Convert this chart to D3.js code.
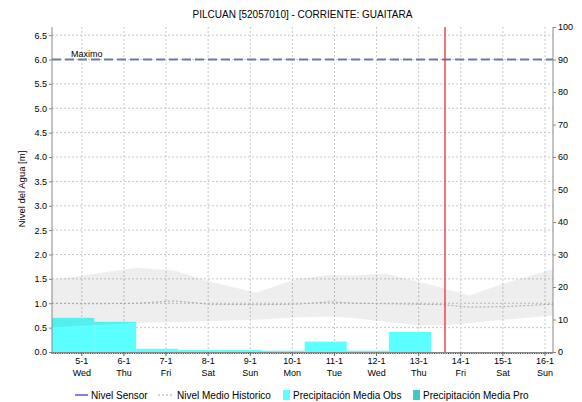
<!DOCTYPE html>
<html><head><meta charset="utf-8">
<script src="https://cdn.jsdelivr.net/npm/d3@7"></script>
<style>body{margin:0;background:#fff}svg{display:block}text{font-family:"Liberation Sans",Arial,sans-serif;fill:#000}</style>
</head><body>
<svg id="c" width="582" height="402"></svg>
<script>
// ---- data ----
const title = "PILCUAN [52057010] - CORRIENTE: GUAITARA";
const dayTicks = [5,6,7,8,9,10,11,12,13,14,15,16];
const dayLabels = ["5-1","6-1","7-1","8-1","9-1","10-1","11-1","12-1","13-1","14-1","15-1","16-1"];
const weekdays = ["Wed","Thu","Fri","Sat","Sun","Mon","Tue","Wed","Thu","Fri","Sat","Sun"];
const precipDays = [4,5,6,7,8,9,10,11,12];
const precipObs = [10.5,9.3,1.0,0.6,0.6,0.4,3.2,0.4,6.2];
const histT = [4.29,5.0,5.5,6.3,7.2,8.0,9.15,10.1,10.9,11.5,12.2,13.0,13.6,14.2,15.0,16.19];
const histUpper = [1.49,1.56,1.63,1.73,1.67,1.45,1.22,1.50,1.58,1.57,1.61,1.44,1.31,1.16,1.40,1.70];
const histLower = [0.51,0.54,0.56,0.60,0.61,0.63,0.66,0.71,0.73,0.69,0.62,0.55,0.55,0.59,0.66,0.75];
const histMean  = [1.00,0.99,0.99,1.00,1.05,0.98,0.97,0.98,1.03,1.00,0.99,0.98,0.97,0.92,0.93,0.98];
const maxLevel = 6.0;
const nowT = 13.625;
const leftTicks = [0,0.5,1,1.5,2,2.5,3,3.5,4,4.5,5,5.5,6,6.5];
const rightTicks = [0,10,20,30,40,50,60,70,80,90,100];

// ---- layout ----
const svg = d3.select("#c");
const L=52, R=553, T=27, B=352;
const x = d3.scaleLinear().domain([4+7/24, 16.19]).range([L,R]);
const yL = d3.scaleLinear().domain([0,20/3]).range([B,T]);
const yR = d3.scaleLinear().domain([0,100]).range([B,T]);

svg.append("text").attr("x",(L+R)/2).attr("y",18).attr("text-anchor","middle")
  .style("font-size","10px").text(title);

// grid
const g = svg.append("g");
g.selectAll(".vg").data(dayTicks).join("line")
  .attr("x1",d=>x(d)).attr("x2",d=>x(d)).attr("y1",T).attr("y2",B)
  .attr("stroke","#c8c8c8").attr("stroke-dasharray","2,2");
g.selectAll(".hg").data(leftTicks.filter(d=>d>0)).join("line")
  .attr("x1",L).attr("x2",R).attr("y1",d=>yL(d)).attr("y2",d=>yL(d))
  .attr("stroke","#c8c8c8").attr("stroke-dasharray","2,2");

// bars
const clip = svg.append("clipPath").attr("id","pc").append("rect")
  .attr("x",L).attr("y",T).attr("width",R-L).attr("height",B-T);
const plot = svg.append("g").attr("clip-path","url(#pc)");
plot.selectAll(".bar").data(precipDays.map((d,i)=>({d,v:precipObs[i]}))).join("rect")
  .attr("x",p=>x(p.d+7/24)).attr("width",p=>x(p.d+1+7/24)-x(p.d+7/24))
  .attr("y",p=>yR(p.v)).attr("height",p=>B-yR(p.v)).attr("fill","#5cffff");

// historical band
const band = histT.map((t,i)=>({t,u:histUpper[i],l:histLower[i],m:histMean[i]}));
plot.append("path").datum(band)
  .attr("d",d3.area().x(p=>x(p.t)).y0(p=>yL(p.l)).y1(p=>yL(p.u)))
  .attr("fill","rgba(0,0,0,0.065)");
plot.append("path").datum(band)
  .attr("d",d3.line().x(p=>x(p.t)).y(p=>yL(p.m)))
  .attr("fill","none").attr("stroke","#a8a8a8").attr("stroke-dasharray","2,2");

// max line
svg.append("line").attr("x1",L).attr("x2",R).attr("y1",yL(maxLevel)).attr("y2",yL(maxLevel))
  .attr("stroke","#6a7aa8").attr("stroke-width",2).attr("stroke-dasharray","9,4");
svg.append("text").attr("x",71).attr("y",yL(maxLevel)-3).style("font-size","9px").text("Maximo");

// now line
svg.append("line").attr("x1",x(nowT)).attr("x2",x(nowT)).attr("y1",T).attr("y2",B)
  .attr("stroke","#e83030").attr("stroke-width",1.3);

// left axis
const la = svg.append("g").attr("transform",`translate(${L},0)`)
  .call(d3.axisLeft(yL).tickValues(leftTicks).tickFormat(d3.format(".1f")).tickSize(3).tickPadding(2));
la.select(".domain").attr("stroke","#888").attr("d",`M0,${T}V${B}`);
la.selectAll(".tick line").attr("stroke","#888");
la.selectAll("text").style("font-size","9px").style("font-family","Liberation Sans, Arial");
// right axis
const ra = svg.append("g").attr("transform",`translate(${R},0)`)
  .call(d3.axisRight(yR).tickValues(rightTicks).tickSize(3).tickPadding(2));
ra.select(".domain").attr("stroke","#888").attr("d",`M0,${T}V${B}`);
ra.selectAll(".tick line").attr("stroke","#888");
ra.selectAll("text").style("font-size","9px").style("font-family","Liberation Sans, Arial");

// bottom axis: dense hourly ticks
const hours = d3.range(Math.ceil(x.domain()[0]*24), Math.floor(x.domain()[1]*24)+1).map(h=>h/24);
svg.append("g").selectAll("line").data(hours).join("line")
  .attr("x1",d=>x(d)).attr("x2",d=>x(d)).attr("y1",B).attr("y2",B+2)
  .attr("stroke","#444");
svg.append("line").attr("x1",L).attr("x2",R).attr("y1",B+0.5).attr("y2",B+0.5).attr("stroke","#888");
svg.append("g").selectAll("line").data(dayTicks).join("line")
  .attr("x1",d=>x(d)).attr("x2",d=>x(d)).attr("y1",B).attr("y2",B+4).attr("stroke","#666");
const xl = svg.append("g");
xl.selectAll(".d").data(dayTicks).join("text").attr("x",d=>x(d)).attr("y",364)
  .attr("text-anchor","middle").style("font-size","9px").text((d,i)=>dayLabels[i]);
xl.selectAll(".w").data(dayTicks).join("text").attr("x",d=>x(d)).attr("y",376)
  .attr("text-anchor","middle").style("font-size","9px").text((d,i)=>weekdays[i]);

// y label
svg.append("text").attr("transform","translate(25,189) rotate(-90)").attr("text-anchor","middle")
  .style("font-size","9.5px").text("Nivel del Agua [m]");

// legend
const ly = 395;
const lg = svg.append("g").style("font-size","10px");
lg.append("line").attr("x1",75).attr("x2",88).attr("y1",ly).attr("y2",ly).attr("stroke","#0000e0");
lg.append("text").attr("x",91).attr("y",ly+3.5).text("Nivel Sensor");
lg.append("line").attr("x1",158).attr("x2",174).attr("y1",ly).attr("y2",ly).attr("stroke","#a8a8a8").attr("stroke-dasharray","2,2");
lg.append("text").attr("x",177).attr("y",ly+3.5).text("Nivel Medio Historico");
lg.append("rect").attr("x",283).attr("y",ly-5).attr("width",7).attr("height",10).attr("fill","#5cffff");
lg.append("text").attr("x",293).attr("y",ly+3.5).text("Precipitación Media Obs");
lg.append("rect").attr("x",413).attr("y",ly-5).attr("width",7).attr("height",10).attr("fill","#40c8c8");
lg.append("text").attr("x",423).attr("y",ly+3.5).text("Precipitación Media Pro");
</script>
</body></html>
